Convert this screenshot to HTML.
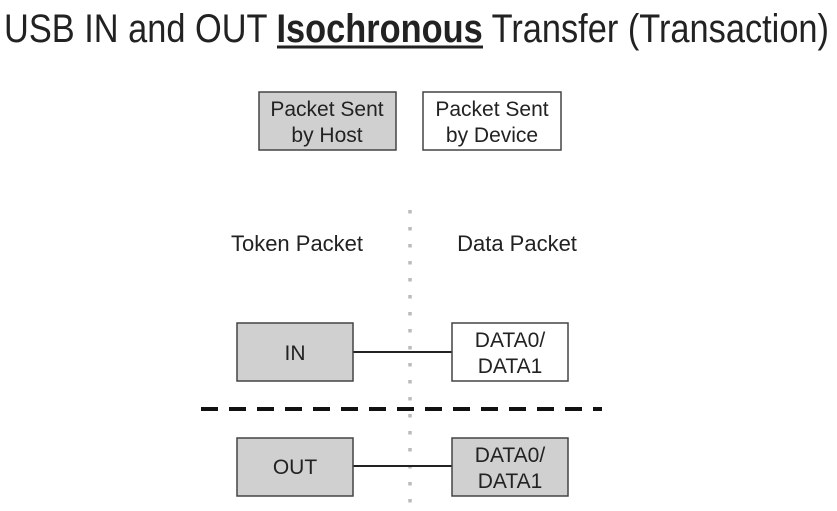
<!DOCTYPE html>
<html><head><meta charset="utf-8"><style>
html,body{margin:0;padding:0;background:#fff;width:837px;height:511px;overflow:hidden}
svg{display:block}
text{font-family:"Liberation Sans",Arial,sans-serif;fill:#222}
</style></head><body>
<svg width="837" height="511" viewBox="0 0 837 511">
<text x="4" y="42" font-size="40" textLength="825" lengthAdjust="spacingAndGlyphs">USB IN and OUT <tspan font-weight="bold">Isochronous</tspan> Transfer (Transaction)</text>
<line x1="277" y1="47" x2="483" y2="47" stroke="#222" stroke-width="3"/>
<rect x="259" y="92" width="137" height="58" fill="#d0d0d0" stroke="#444" stroke-width="1.5"/>
<text x="327" y="116" font-size="21" text-anchor="middle">Packet Sent</text>
<text x="327" y="142" font-size="21" text-anchor="middle">by Host</text>
<rect x="423" y="92" width="138" height="58" fill="#fff" stroke="#444" stroke-width="1.5"/>
<text x="492" y="116" font-size="21" text-anchor="middle">Packet Sent</text>
<text x="492" y="142" font-size="21" text-anchor="middle">by Device</text>
<line x1="410" y1="210" x2="410" y2="505" stroke="#bbb" stroke-width="3.5" stroke-dasharray="3.5 13.5"/>
<text x="297" y="251" font-size="22" text-anchor="middle">Token Packet</text>
<text x="517" y="251" font-size="22" text-anchor="middle">Data Packet</text>
<line x1="353" y1="352" x2="452" y2="352" stroke="#222" stroke-width="2"/>
<rect x="237" y="323" width="116" height="58" fill="#d0d0d0" stroke="#444" stroke-width="1.5"/>
<text x="295" y="360" font-size="21" text-anchor="middle">IN</text>
<rect x="452" y="323" width="116" height="58" fill="#fff" stroke="#444" stroke-width="1.5"/>
<text x="510" y="347" font-size="21" text-anchor="middle">DATA0/</text>
<text x="510" y="373" font-size="21" text-anchor="middle">DATA1</text>
<line x1="201" y1="409" x2="602" y2="409" stroke="#111" stroke-width="4" stroke-dasharray="17 11"/>
<line x1="353" y1="466" x2="452" y2="466" stroke="#222" stroke-width="2"/>
<rect x="237" y="438" width="116" height="58" fill="#d0d0d0" stroke="#444" stroke-width="1.5"/>
<text x="295" y="474" font-size="21" text-anchor="middle">OUT</text>
<rect x="452" y="438" width="116" height="58" fill="#d0d0d0" stroke="#444" stroke-width="1.5"/>
<text x="510" y="462" font-size="21" text-anchor="middle">DATA0/</text>
<text x="510" y="488" font-size="21" text-anchor="middle">DATA1</text>
</svg>
</body></html>
